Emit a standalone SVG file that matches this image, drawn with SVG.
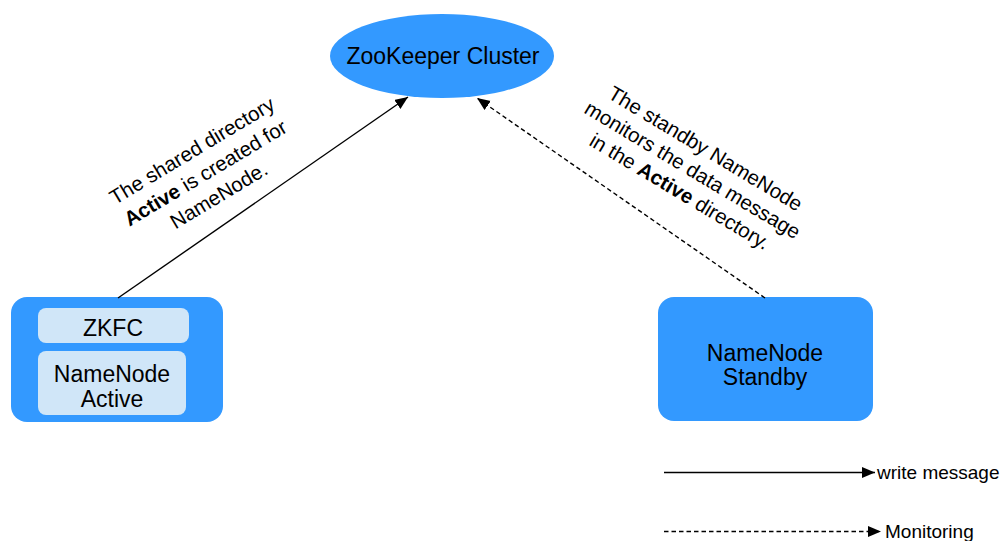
<svg xmlns="http://www.w3.org/2000/svg" width="1002" height="541" viewBox="0 0 1002 541">
<style>
text{font-family:"Liberation Sans",Arial,sans-serif;fill:#000;}
.lbl{font-size:23px;text-anchor:middle;}
.note{font-size:20.5px;text-anchor:middle;}
.leg{font-size:19px;}
.blue{fill:#3399ff;}
.inner{fill:#d0e6f8;}
.solid{stroke:#000;stroke-width:1.4;fill:none;}
.dash{stroke:#000;stroke-width:1.4;fill:none;stroke-dasharray:4.5 3;}
.b{font-weight:bold;}
</style>
<defs>
<marker id="ah" markerUnits="userSpaceOnUse" markerWidth="16" markerHeight="14" refX="13" refY="5.5" orient="auto">
<path d="M0,0 L13,5.5 L0,11 Z" fill="#000"/>
</marker>
</defs>
<rect width="1002" height="541" fill="#fff"/>
<g id="zookeeper">
<ellipse class="blue" cx="442" cy="56" rx="112" ry="42"/>
<text class="lbl" x="443" y="64">ZooKeeper Cluster</text>
</g>
<g id="namenode-active">
<rect class="blue" x="11" y="297" width="212" height="125" rx="16"/>
<rect class="inner" x="38" y="308" width="151" height="35" rx="8"/>
<rect class="inner" x="38" y="351" width="148" height="64" rx="8"/>
<text class="lbl" x="113" y="336">ZKFC</text>
<text class="lbl" x="112" y="382">NameNode</text>
<text class="lbl" x="112" y="407">Active</text>
</g>
<g id="namenode-standby">
<rect class="blue" x="658" y="297" width="215" height="124" rx="16"/>
<text class="lbl" x="765" y="361">NameNode</text>
<text class="lbl" x="765" y="385">Standby</text>
</g>
<g id="connectors">
<line class="solid" x1="118" y1="298" x2="408" y2="97" marker-end="url(#ah)"/>
<line class="dash" x1="765" y1="298" x2="477" y2="98" marker-end="url(#ah)"/>
</g>
<g id="note-left" transform="translate(209,179) rotate(-31)">
<text class="note" x="0" y="-26">The shared directory</text>
<text class="note" x="0" y="0"><tspan class="b">Active</tspan> is created for</text>
<text class="note" x="0" y="26">NameNode.</text>
</g>
<g id="note-right" transform="translate(689,176) rotate(31)">
<text class="note" x="0" y="-25">The standby NameNode</text>
<text class="note" x="0" y="0">monitors the data message</text>
<text class="note" x="0" y="25">in the <tspan class="b">Active</tspan> directory.</text>
</g>
<g id="legend">
<line class="solid" x1="664" y1="472.5" x2="875" y2="472.5" marker-end="url(#ah)"/>
<text class="leg" x="877" y="479">write message</text>
<line class="dash" x1="664" y1="531.5" x2="881" y2="531.5" marker-end="url(#ah)"/>
<text class="leg" x="885" y="538">Monitoring</text>
</g>
</svg>
